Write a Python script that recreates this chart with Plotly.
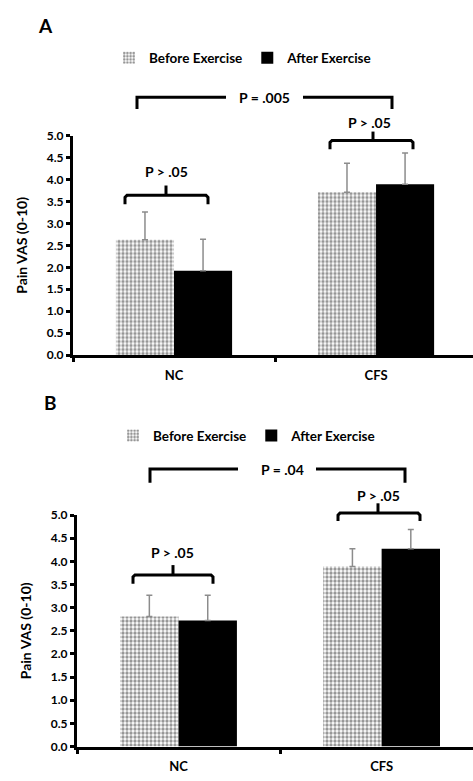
import plotly.graph_objects as go

W, H = 473, 781
FONT = "Lato"

categories = ["NC", "CFS"]
series_names = ["Before Exercise", "After Exercise"]

# Panel A
a_before = [2.63, 3.71]
a_before_err = [0.63, 0.66]
a_after = [1.92, 3.89]
a_after_err = [0.72, 0.71]
# Panel B
b_before = [2.81, 3.89]
b_before_err = [0.46, 0.38]
b_after = [2.72, 4.27]
b_after_err = [0.55, 0.42]

y_ticks = [i * 0.5 for i in range(11)]


def px(x):
    return x / W


def py(y):
    return 1 - y / H


fig = go.Figure()

pat = dict(shape=".", size=4, solidity=0.55, fgcolor="#2e2e2e", bgcolor="white", fillmode="overlay")
err_style = dict(type="data", symmetric=False, color="#8c8c8c", thickness=1.5, width=3)

for (bef, bef_e, aft, aft_e, xa, ya, leg) in [
    (a_before, a_before_err, a_after, a_after_err, "x", "y", "legend"),
    (b_before, b_before_err, b_after, b_after_err, "x2", "y2", "legend2"),
]:
    fig.add_trace(go.Bar(
        x=categories, y=bef, name=series_names[0], xaxis=xa, yaxis=ya, legend=leg,
        marker=dict(color="white", pattern=pat, line=dict(width=0)),
        error_y=dict(array=bef_e, arrayminus=[0] * len(bef_e), **err_style),
    ))
    fig.add_trace(go.Bar(
        x=categories, y=aft, name=series_names[1], xaxis=xa, yaxis=ya, legend=leg,
        marker=dict(color="black", line=dict(width=0)),
        error_y=dict(array=aft_e, arrayminus=[0] * len(aft_e), **err_style),
    ))

tickfont = dict(family=FONT, size=12, color="black", weight="bold")
xtickfont = dict(family=FONT, size=13, color="black", weight="bold")
xcommon = dict(type="category", categoryorder="array", categoryarray=categories,
               showline=True, linewidth=3, linecolor="black", ticks="outside",
               tickson="boundaries", ticklen=4, tickwidth=3, tickcolor="black",
               showgrid=False, zeroline=False, tickfont=xtickfont, ticklabelstandoff=6,
               fixedrange=True)
ycommon = dict(range=[0, 5], tickvals=y_ticks, tickformat=".1f", showline=True, linewidth=3,
               linecolor="black", ticks="outside", ticklen=4, tickwidth=3, tickcolor="black",
               showgrid=False, zeroline=False, tickfont=tickfont, fixedrange=True,
               title=dict(text="Pain VAS (0-10)", font=dict(family=FONT, size=14, color="black", weight="bold"),
                          standoff=16))

legfont = dict(family=FONT, size=13.5, color="black", weight="bold")

fig.update_layout(
    width=W, height=H,
    margin=dict(l=0, r=0, t=0, b=0),
    paper_bgcolor="white", plot_bgcolor="white",
    barmode="group", bargap=0.425, bargroupgap=0,
    font=dict(family=FONT, color="black"),
    xaxis=dict(domain=[px(73), 1], range=[-0.5, 1.48], anchor="y", **xcommon),
    yaxis=dict(domain=[py(354), py(130)], anchor="x", **ycommon),
    xaxis2=dict(domain=[px(77), 1], range=[-0.5, 1.45], anchor="y2", **xcommon),
    yaxis2=dict(domain=[py(753), py(517)], anchor="x2", **ycommon),
    legend=dict(orientation="h", x=px(109), y=py(51), xanchor="left", yanchor="middle",
                font=legfont, bgcolor="rgba(0,0,0,0)", itemwidth=30, traceorder="normal"),
    legend2=dict(orientation="h", x=px(113), y=py(436), xanchor="left", yanchor="middle",
                 font=legfont, bgcolor="rgba(0,0,0,0)", itemwidth=30, traceorder="normal"),
    showlegend=True,
)

shapes = []
annotations = []


def line_path(points):
    return "M" + " L".join(f"{px(x):.5f},{py(y):.5f}" for x, y in points)


def add_path(points):
    shapes.append(dict(type="path", xref="paper", yref="paper", path=line_path(points),
                       line=dict(color="black", width=3)))


def brace(x0, x1, xm, yh, yend, ytop):
    add_path([(x0, yend), (x0, yh + 2), (x0 + 2, yh), (x1 - 2, yh), (x1, yh + 2), (x1, yend)])
    add_path([(xm, yh), (xm, ytop)])


def text(x, y, s, size=14):
    annotations.append(dict(x=px(x), y=py(y), xref="paper", yref="paper", text=s, showarrow=False,
                            xanchor="center", yanchor="middle",
                            font=dict(family=FONT, size=size, color="black", weight="bold")))


# Panel A annotations
text(45, 18, "A", 19)
add_path([(137, 103), (137, 91), (226, 91)])
add_path([(303, 91), (392, 91), (392, 103)])
text(264, 91, "P = .005")
brace(125, 208, 166, 191, 200, 181)
text(166, 167, "P &gt; .05")
brace(330, 413, 373, 135, 144, 126)
text(369, 117, "P &gt; .05")

# Panel B annotations
text(50, 402, "B", 19)
add_path([(150, 484), (150, 470), (238, 470)])
add_path([(316, 470), (405, 470), (405, 484)])
text(282, 471, "P = .04")
brace(133, 213, 173, 578, 587, 568)
text(172, 555, "P &gt; .05")
brace(338, 420, 378, 515, 523, 505)
text(378, 497, "P &gt; .05")

fig.update_layout(shapes=shapes, annotations=annotations)

fig.write_html("out.html", config={"displayModeBar": False},
               post_script="document.body.style.margin='0px';")
